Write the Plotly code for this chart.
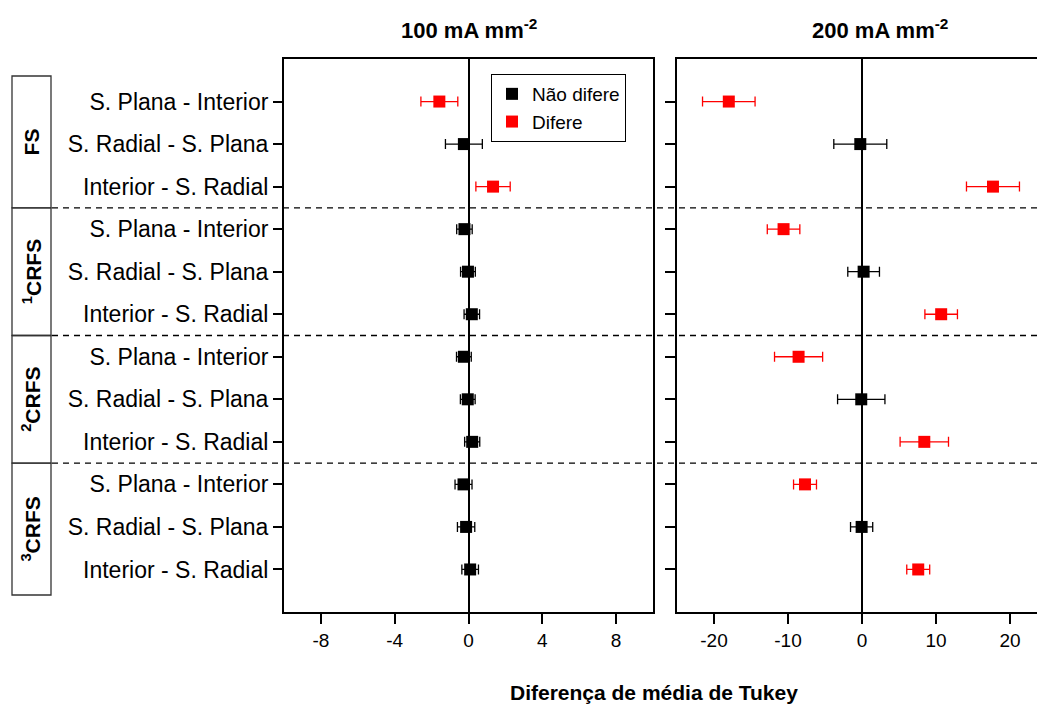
import plotly.graph_objects as go

# ---------------- data ----------------
groups = ["FS", "<sup>1</sup>CRFS", "<sup>2</sup>CRFS", "<sup>3</sup>CRFS"]
comparisons = ["S. Plana - Interior", "S. Radial - S. Plana", "Interior - S. Radial"]

mean_100 = [-1.58, -0.25, 1.33, -0.22, -0.03, 0.18, -0.25, -0.04, 0.20, -0.27, -0.13, 0.09]
ci_100 = [1.00, 1.00, 0.93, 0.42, 0.40, 0.42, 0.40, 0.40, 0.41, 0.46, 0.47, 0.45]
differs_100 = [1, 0, 1, 0, 0, 0, 0, 0, 0, 0, 0, 0]

mean_200 = [-18.0, -0.23, 17.7, -10.6, 0.22, 10.7, -8.57, -0.10, 8.42, -7.7, -0.05, 7.6]
ci_200 = [3.55, 3.58, 3.58, 2.20, 2.14, 2.20, 3.25, 3.20, 3.27, 1.55, 1.50, 1.55]
differs_200 = [1, 0, 1, 1, 0, 1, 1, 0, 1, 1, 0, 1]

panel_titles = ["100 mA mm<sup>-2</sup>", "200 mA mm<sup>-2</sup>"]
xticks_100 = [-8, -4, 0, 4, 8]
xticks_200 = [-20, -10, 0, 10, 20]
x_title = "Diferença de média de Tukey"
legend_names = ["Não difere", "Difere"]

# ---------------- derived ----------------
row_labels = [c for g in groups for c in comparisons]
rows = list(range(1, len(row_labels) + 1))
xtext_100 = [str(v) for v in xticks_100]
xtext_200 = [str(v) for v in xticks_200]

W, H = 1037, 704
ML, MR, MT, MB = 284, 0, 59, 92
PW, PH = W - ML - MR, H - MT - MB


def px_x(p):
    return (p - ML) / PW


def px_y(p):
    return (H - MB - p) / PH


FONT = "Liberation Sans, Arial, sans-serif"
colors = ["#000000", "#FF0000"]

fig = go.Figure()

for pi, (means, cis, flags, xa, ya) in enumerate([
    (mean_100, ci_100, differs_100, "x", "y"),
    (mean_200, ci_200, differs_200, "x2", "y2"),
]):
    for flag in (0, 1):
        idx = [i for i, f in enumerate(flags) if f == flag]
        fig.add_trace(go.Scatter(
            x=[means[i] for i in idx],
            y=[rows[i] for i in idx],
            error_x=dict(type="data", array=[cis[i] for i in idx], symmetric=True,
                         color=colors[flag], thickness=1.3, width=5),
            mode="markers",
            marker=dict(symbol="square", size=12, color=colors[flag], line=dict(width=0)),
            name=legend_names[flag],
            showlegend=(pi == 0),
            xaxis=xa, yaxis=ya,
        ))

axis_common = dict(showline=True, linewidth=2, linecolor="black", showgrid=False,
                   ticks="outside", ticklen=10, tickwidth=2, tickcolor="black")

dom1 = [0, px_x(653)]
dom2 = [px_x(677), 1]

fig.update_layout(
    width=W, height=H,
    margin=dict(l=ML, r=MR, t=MT, b=MB),
    plot_bgcolor="white", paper_bgcolor="white",
    font=dict(family=FONT, color="black"),
    xaxis=dict(domain=dom1, range=[-10, 10], tickvals=xticks_100, ticktext=xtext_100,
               anchor="y", mirror=True,
               zeroline=True, zerolinecolor="black", zerolinewidth=2,
               tickfont=dict(size=19), **axis_common),
    xaxis2=dict(domain=dom2, range=[-25, 23.65], tickvals=xticks_200, ticktext=xtext_200,
                anchor="y2", mirror=True,
                zeroline=True, zerolinecolor="black", zerolinewidth=2,
                tickfont=dict(size=19), **axis_common),
    xaxis3=dict(overlaying="x", side="top", anchor="y", range=[-10, 10], tickvals=xticks_100,
                ticks="inside", ticklen=10, tickwidth=2, tickcolor="black",
                showticklabels=False, showline=False, showgrid=False, zeroline=False),
    xaxis4=dict(overlaying="x2", side="top", anchor="y2", range=[-25, 23.65], tickvals=xticks_200,
                ticks="inside", ticklen=10, tickwidth=2, tickcolor="black",
                showticklabels=False, showline=False, showgrid=False, zeroline=False),
    yaxis=dict(domain=[0, 1], range=[13, 0], tickvals=rows, ticktext=row_labels, anchor="x",
               mirror=True, zeroline=False, tickfont=dict(size=23),
               **{**axis_common, "ticklen": 9}),
    yaxis2=dict(domain=[0, 1], range=[13, 0], tickvals=rows, anchor="x2", mirror=False,
                showticklabels=False, zeroline=False, **axis_common),
    yaxis3=dict(overlaying="y", side="right", anchor="x", range=[13, 0], tickvals=rows,
                ticks="inside", ticklen=9, tickwidth=2, tickcolor="black",
                showticklabels=False, showline=False, showgrid=False, zeroline=False),
    legend=dict(x=px_x(491), y=px_y(74), xanchor="left", yanchor="top",
                bordercolor="black", borderwidth=1, bgcolor="white",
                font=dict(size=19, family=FONT), tracegroupgap=0),
)

# group separators (dashed) and group boxes
for k in range(1, len(groups)):
    yb = k * len(comparisons) + 0.5
    fig.add_shape(type="line", xref="paper", yref="y", x0=px_x(52), x1=1, y0=yb, y1=yb,
                  line=dict(color="black", width=1.3, dash="6px,5px"))

box_top = 0.4
box_bot = len(rows) + 0.6
for k, g in enumerate(groups):
    y0 = box_top if k == 0 else k * len(comparisons) + 0.5
    y1 = box_bot if k == len(groups) - 1 else (k + 1) * len(comparisons) + 0.5
    fig.add_shape(type="rect", xref="paper", yref="y", x0=px_x(12), x1=px_x(51), y0=y0, y1=y1,
                  line=dict(color="#333333", width=1.3), fillcolor="rgba(0,0,0,0)")
    fig.add_annotation(text="<b>" + g + "</b>", xref="paper", yref="y", x=px_x(31.5),
                       y=(y0 + y1) / 2, textangle=-90, showarrow=False,
                       xanchor="center", yanchor="middle",
                       font=dict(size=21, family=FONT, color="black"))

# panel titles
for t, xc in zip(panel_titles, [469, 880]):
    fig.add_annotation(text="<b>" + t + "</b>", xref="paper", yref="paper", x=px_x(xc),
                       y=px_y(29), xanchor="center", yanchor="middle", showarrow=False,
                       font=dict(size=22, family=FONT, color="black"))

fig.add_annotation(text="<b>" + x_title + "</b>", xref="paper", yref="paper", x=px_x(654),
                   y=px_y(692), xanchor="center", yanchor="middle", showarrow=False,
                   font=dict(size=21, family=FONT, color="black"))

fig.write_html("out.html")
